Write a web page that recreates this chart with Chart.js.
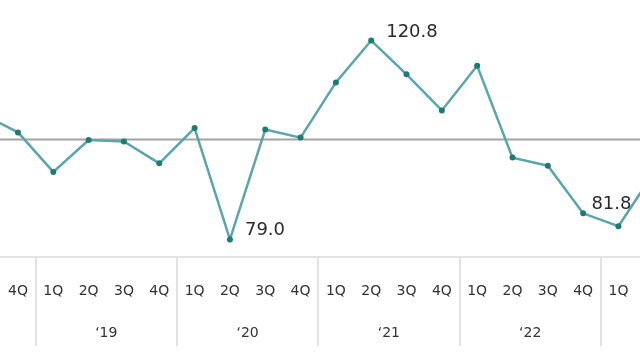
<!DOCTYPE html>
<html>
<head>
<meta charset="utf-8">
<script src="https://cdn.jsdelivr.net/npm/chart.js@4"></script>
<style>
  html, body { margin: 0; padding: 0; background: #fff; overflow: hidden; }
  #wrap { width: 640px; height: 360px; }
</style>
</head>
<body>
<div id="wrap"><canvas id="chart" width="640" height="360"></canvas></div>
<script>
// Quarters from 3Q '18 to 2Q '23 (first and last run off the edges)
const quarters = ['3Q', '4Q', '1Q', '2Q', '3Q', '4Q', '1Q', '2Q', '3Q', '4Q',
                  '1Q', '2Q', '3Q', '4Q', '1Q', '2Q', '3Q', '4Q', '1Q', '2Q'];
const values = [105.3, 101.5, 93.2, 99.9, 99.6, 95.0, 102.4, 79.0, 102.1, 100.4,
                112.0, 120.8, 113.7, 106.1, 115.5, 96.2, 94.5, 84.5, 81.8, 93.0];
const baseline = values.map(() => 100);

// year groups: centre index + label, and boundaries between groups
const yearCenters = [3.5, 7.5, 11.5, 15.5];
const yearLabels = ['\u201819', '\u201820', '\u201821', '\u201822'];
const yearBounds = [1.5, 5.5, 9.5, 13.5, 17.5];

// points that carry a value label
const labelled = [7, 11, 18];

const idx = values.map((_, i) => i);

const fontFamily = '"DejaVu Sans", Verdana, sans-serif';

const labelPlugin = {
    id: 'valueLabels',
    afterDatasetsDraw(chart) {
        const ctx = chart.ctx;
        const meta = chart.getDatasetMeta(0);
        const offsets = { 7: [15, -9, 'left'], 11: [15, -8, 'left'], 18: [-7, -22, 'center'] };
        ctx.save();
        ctx.font = '18px ' + fontFamily;
        ctx.fillStyle = '#2a2a2a';
        ctx.textBaseline = 'middle';
        labelled.forEach(i => {
            const p = meta.data[i];
            const o = offsets[i];
            ctx.textAlign = o[2];
            ctx.fillText(values[i].toFixed(1), p.x + o[0], p.y + o[1]);
        });
        ctx.restore();
    }
};

const separatorPlugin = {
    id: 'yearSeparators',
    afterDraw(chart) {
        const ctx = chart.ctx;
        const xs = chart.scales.x;
        ctx.save();
        ctx.strokeStyle = '#e2e2e2';
        ctx.lineWidth = 2;
        yearBounds.forEach(b => {
            const x = Math.round(xs.getPixelForValue(b));
            ctx.beginPath();
            ctx.moveTo(x, chart.chartArea.bottom);
            ctx.lineTo(x, 346);
            ctx.stroke();
        });
        ctx.restore();
    }
};

const noPad = s => { s.paddingLeft = 0; s.paddingRight = 0; };

new Chart(document.getElementById('chart'), {
    type: 'line',
    data: {
        datasets: [{
            data: idx.map(i => ({ x: i, y: values[i] })),
            borderColor: '#5aa6ad',
            borderWidth: 2.5,
            pointRadius: 3,
            pointBackgroundColor: '#1e7b73',
            pointBorderColor: '#1e7b73',
            pointBorderWidth: 0,
            tension: 0,
            order: 0
        }, {
            data: idx.map(i => ({ x: i, y: baseline[i] })),
            borderColor: '#a3a3a3',
            borderWidth: 2,
            pointRadius: 0,
            order: 1
        }]
    },
    options: {
        responsive: false,
        animation: false,
        layout: { padding: 0, autoPadding: false },
        plugins: { legend: { display: false }, tooltip: { enabled: false } },
        scales: {
            x: {
                type: 'linear',
                position: 'bottom',
                min: 0.4904,
                max: 18.61,
                afterBuildTicks: s => { s.ticks = idx.filter(i => i >= 1 && i <= 18).map(i => ({ value: i })); },
                afterFit: s => { s.height = 56; noPad(s); },
                grid: { display: false, drawTicks: false },
                border: { display: true, color: '#e2e2e2', width: 2 },
                ticks: {
                    autoSkip: false,
                    maxRotation: 0,
                    padding: 26,
                    color: '#333',
                    font: { family: fontFamily, size: 14 },
                    callback: v => quarters[v]
                }
            },
            year: {
                type: 'linear',
                position: 'bottom',
                min: 0.4904,
                max: 18.61,
                afterBuildTicks: s => { s.ticks = yearCenters.map(v => ({ value: v })); },
                afterFit: s => { s.height = 47; noPad(s); },
                grid: { display: false, drawTicks: false },
                border: { display: false },
                ticks: {
                    autoSkip: false,
                    maxRotation: 0,
                    padding: 12,
                    color: '#333',
                    font: { family: fontFamily, size: 14 },
                    callback: v => yearLabels[yearCenters.indexOf(v)]
                }
            },
            y: {
                display: false,
                min: 75.32,
                max: 129.31
            }
        }
    },
    plugins: [labelPlugin, separatorPlugin]
});
</script>
</body>
</html>
